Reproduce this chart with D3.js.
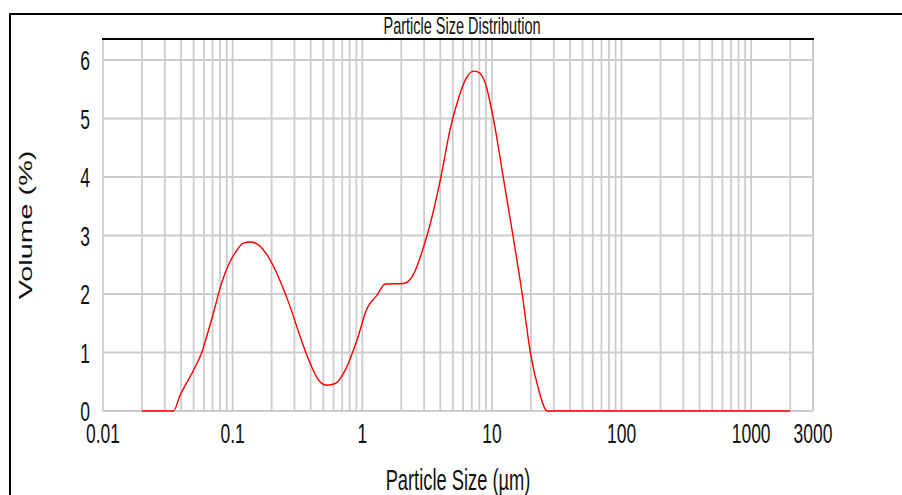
<!DOCTYPE html>
<html lang="en">
<head>
    <meta charset="UTF-8">
    <title>Particle Size Distribution</title>
    <script src="https://d3js.org/d3.v7.min.js"></script>
    <style>
        body {margin: 0; background: #fff;}
        text {font-family: "Liberation Sans", Arial, sans-serif; fill: #111;}
    </style>
</head>
<body>
<script>
    const width = 902;
    const height = 495;

    // particle size (µm) and volume (%)
    const sizes = [0.02, 0.035, 0.039, 0.05, 0.058, 0.063, 0.071, 0.08, 0.093, 0.108,
        0.121, 0.138, 0.158, 0.195, 0.24, 0.278, 0.332, 0.397, 0.46, 0.534,
        0.619, 0.739, 0.91, 1.087, 1.299, 1.505, 2.084, 2.489, 2.891, 3.453,
        4.003, 4.78, 5.54, 6.24, 7.236, 7.91, 8.91, 10.32, 12.33, 14.73,
        17.11, 19.83, 22.98, 26.69, 2000];
    const volumes = [0, 0, 0.25, 0.70, 1.01, 1.27, 1.67, 2.10, 2.50, 2.75,
        2.87, 2.89, 2.84, 2.58, 2.15, 1.78, 1.27, 0.81, 0.53, 0.44,
        0.47, 0.70, 1.21, 1.75, 1.98, 2.17, 2.18, 2.34, 2.72, 3.32,
        3.95, 4.83, 5.35, 5.66, 5.81, 5.79, 5.60, 4.97, 3.95, 2.92,
        2.01, 0.99, 0.36, 0, 0];

    const xTicks = [0.01, 0.1, 1, 10, 100, 1000, 3000];
    const xTickLabels = ["0.01", "0.1", "1", "10", "100", "1000", "3000"];
    const yTicks = [0, 1, 2, 3, 4, 5, 6];

    const title = "Particle Size Distribution";
    const xTitle = "Particle Size (µm)";
    const yTitle = "Volume (%)";

    const stretch = 1.6;  // the picture's text is tall and narrow
    const plotTop = 39;

    const svg = d3.select("body").append("svg")
            .attr("width", width).attr("height", height);

    const x = d3.scaleLog().domain([0.01, 3000]).range([103, 813]);
    const y = d3.scaleLinear().domain([0, 6]).range([411, 60]);

    // outer frame
    svg.append("path")
            .attr("d", `M10,${height} V14 H${width}`)
            .style("fill", "none")
            .style("stroke", "#000")
            .style("stroke-width", 2);

    // grid lines
    const gridX = [];
    for (let e = -2; e <= 3; e++) {
        for (let k = 1; k <= 9; k++) {
            const v = k * Math.pow(10, e);
            if (v <= 3000) gridX.push(v);
        }
    }
    gridX.push(3000);

    svg.append("g").selectAll("line.vgrid")
            .data(gridX)
            .enter().append("line")
            .attr("class", "vgrid")
            .attr("x1", d => x(d)).attr("x2", d => x(d))
            .attr("y1", plotTop).attr("y2", y(0))
            .style("stroke", "#cccccc")
            .style("stroke-width", 1.8);

    svg.append("g").selectAll("line.hgrid")
            .data(yTicks)
            .enter().append("line")
            .attr("class", "hgrid")
            .attr("x1", x.range()[0]).attr("x2", x.range()[1])
            .attr("y1", d => y(d)).attr("y2", d => y(d))
            .style("stroke", "#cccccc")
            .style("stroke-width", 1.8);

    // black top edge of the plot
    svg.append("line")
            .attr("x1", x.range()[0] - 1).attr("x2", x.range()[1] + 1)
            .attr("y1", plotTop).attr("y2", plotTop)
            .style("stroke", "#000")
            .style("stroke-width", 2);

    // the curve
    const points = sizes.map((s, i) => [s, volumes[i]]);
    const line = d3.line()
            .x(d => x(d[0]))
            .y(d => y(d[1]))
            .curve(d3.curveMonotoneX);

    svg.append("path")
            .datum(points)
            .attr("d", line)
            .style("fill", "none")
            .style("stroke", "#ff0000")
            .style("stroke-width", 1.4);

    // tick labels
    svg.append("g").selectAll("text")
            .data(yTicks)
            .enter().append("text")
            .attr("transform", d => `translate(90,${y(d) + 10}) scale(1,${stretch})`)
            .attr("text-anchor", "end")
            .style("font-size", "17.5px")
            .text(d => d);

    svg.append("g").selectAll("text")
            .data(xTicks)
            .enter().append("text")
            .attr("transform", d => `translate(${x(d)},443) scale(1,${stretch})`)
            .attr("text-anchor", "middle")
            .style("font-size", "17.5px")
            .text((d, i) => xTickLabels[i]);

    // titles
    svg.append("text")
            .attr("transform", `translate(462,34) scale(1,${stretch})`)
            .attr("text-anchor", "middle")
            .style("font-size", "14.5px")
            .text(title);

    svg.append("text")
            .attr("transform", `translate(458,490) scale(1,${stretch})`)
            .attr("text-anchor", "middle")
            .style("font-size", "18.3px")
            .text(xTitle);

    svg.append("text")
            .attr("transform", `translate(32,225) scale(1,${stretch}) rotate(-90)`)
            .attr("text-anchor", "middle")
            .style("font-size", "18px")
            .text(yTitle);
</script>
</body>
</html>
